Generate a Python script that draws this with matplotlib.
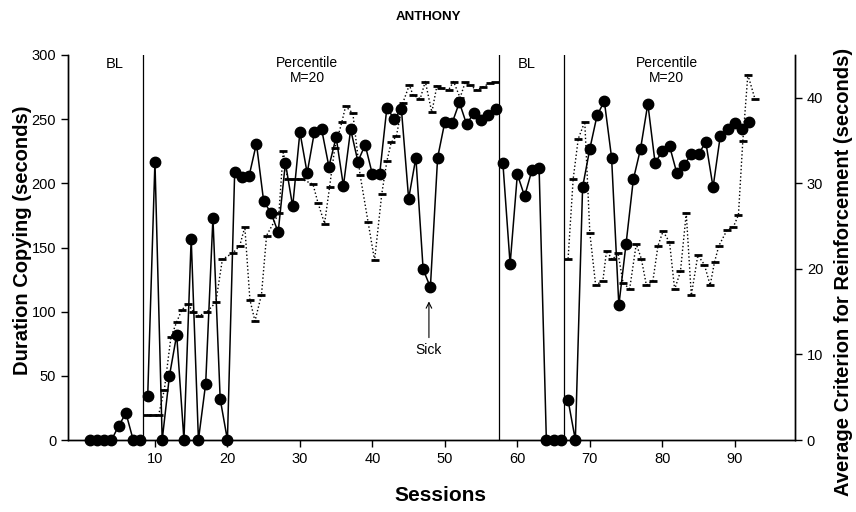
import numpy as np
import matplotlib
matplotlib.use("Agg")
import matplotlib.pyplot as plt

plt.rcParams['font.family'] = ['Liberation Sans', 'DejaVu Sans']

# duration copying (seconds), one value per session, split by phase
bl1_sessions = np.arange(1, 9)
bl1_duration = [0, 0, 0, 0, 11, 21, 0, 0]

p1_sessions = np.arange(9, 58)
p1_duration = [34, 217, 0, 50, 82, 0, 157, 0, 44, 173,
               32, 0, 209, 205, 206, 231, 186, 177, 162, 216,
               182, 240, 208, 240, 242, 213, 236, 198, 242, 217,
               230, 207, 207, 259, 250, 258, 188, 220, 133, 119,
               220, 248, 247, 263, 246, 255, 249, 253, 258]

bl2_sessions = np.arange(58, 67)
bl2_duration = [216, 137, 207, 190, 210, 212, 0, 0, 0]

p2_sessions = np.arange(67, 93)
p2_duration = [31, 0, 197, 227, 253, 264, 220, 105, 153, 203,
               227, 262, 216, 225, 229, 208, 214, 223, 223, 232,
               197, 237, 242, 247, 242, 248]

# average criterion for reinforcement (seconds), right axis
crit1_x = [8.9, 9.7, 10.5, 11.3, 12.2, 13.0, 13.7, 14.5, 15.3, 16.1,
           17.2, 18.4, 19.3, 20.8, 21.7, 22.4, 23.1, 23.8, 24.7, 25.4,
           27.1, 27.7, 28.3, 29.3, 30.2, 31.8, 32.5, 33.4, 34.1, 34.8,
           35.8, 36.3, 37.3, 38.3, 39.4, 40.3, 41.3, 42.0, 42.6, 43.3,
           44.2, 45.1, 45.6, 46.6, 47.3, 48.2, 48.9, 49.5, 50.5, 51.2,
           52.1, 52.8, 53.4, 54.4, 55.3, 56.2, 56.9]
crit1_y = [2.9, 2.9, 2.9, 5.9, 12, 13.8, 15.2, 15.9, 15, 14.5,
           15, 16.1, 21.1, 21.9, 22.7, 24.9, 16.4, 13.9, 17, 23.9,
           26.5, 33.8, 30.5, 30.5, 30.5, 29.9, 27.7, 25.3, 29.6, 34.1,
           37.2, 39, 38.2, 31, 25.5, 21, 28.8, 32.6, 34.8, 35.5,
           39.4, 41.5, 40.3, 39.9, 41.9, 38.3, 41.4, 41.1, 40.9, 41.9,
           40, 41.8, 41.5, 40.9, 41.3, 41.7, 41.8]

crit2_x = [67.0, 67.7, 68.4, 69.3, 70.0, 70.8, 71.8, 72.3, 73.1, 73.9,
           74.6, 75.5, 76.4, 77.1, 77.8, 78.7, 79.4, 80.1, 81.0, 81.7,
           82.5, 83.3, 84.0, 84.9, 85.8, 86.6, 87.2, 87.8, 88.9, 89.8,
           90.5, 91.1, 91.8, 92.8]
crit2_y = [21.2, 30.5, 35.2, 37.2, 24.2, 18.1, 18.6, 22.1, 21.1, 21.8,
           18.3, 17.7, 22.9, 21.2, 18.1, 18.6, 22.7, 24.4, 23.1, 17.6,
           19.7, 26.5, 16.9, 21.6, 20.5, 18.1, 20.8, 22.7, 24.5, 24.9,
           26.3, 34.9, 42.7, 39.8]

phase_lines = [8.4, 57.5, 66.5]

fig = plt.figure(figsize=(8.56, 5.12), dpi=100)
ax = fig.add_axes([0.0794, 0.1406, 0.8493, 0.752])
ax2 = ax.twinx()

# criterion: dashes joined by a dotted line
for cx, cy in [(crit1_x, crit1_y), (crit2_x, crit2_y)]:
    ax2.plot(cx, cy, color='k', ls=':', lw=1.0, marker='_',
             markersize=6, markeredgewidth=2)

# duration: filled circles joined by solid lines
for sx, sy in [(bl1_sessions, bl1_duration), (p1_sessions, p1_duration),
               (bl2_sessions, bl2_duration), (p2_sessions, p2_duration)]:
    ax.plot(sx, sy, color='k', lw=1.1, marker='o', markersize=7.5,
            clip_on=False, zorder=3)

for x in phase_lines:
    ax.axvline(x, color='k', lw=0.9)

ax.set_xlim(-2, 98.3)
ax.set_ylim(0, 300)
ax2.set_ylim(0, 45)
ax.set_xticks(np.arange(10, 100, 10))
ax.set_yticks(np.arange(0, 301, 50))
ax2.set_yticks(np.arange(0, 41, 10))

for a in (ax, ax2):
    a.spines['top'].set_visible(False)
    a.tick_params(direction='out', length=5, width=1, labelsize=10.5)
    for s in a.spines.values():
        s.set_linewidth(1.0)

ax.text(4.5, 293, 'BL', ha='center', va='center', fontsize=10.5)
ax.text(31, 288, 'Percentile\nM=20', ha='center', va='center', fontsize=10,
        linespacing=1.1)
ax.text(61.3, 293, 'BL', ha='center', va='center', fontsize=10.5)
ax.text(80.6, 288, 'Percentile\nM=20', ha='center', va='center', fontsize=10,
        linespacing=1.1)

ax.annotate('Sick', xy=(47.8, 108), xytext=(47.8, 70), ha='center',
            va='center', fontsize=10,
            arrowprops=dict(arrowstyle='->', lw=0.8, color='k',
                            shrinkA=2, shrinkB=0))

fig.text(0.5, 0.966, 'ANTHONY', ha='center', va='center', fontsize=9.5,
         fontweight='bold')
fig.text(0.514, 0.033, 'Sessions', ha='center', va='center', fontsize=15,
         fontweight='bold')
fig.text(0.026, 0.531, 'Duration Copying (seconds)', rotation=90,
         ha='center', va='center', fontsize=14.5, fontweight='bold')
fig.text(0.985, 0.469, 'Average Criterion for Reinforcement (seconds)',
         rotation=90, ha='center', va='center', fontsize=14.5,
         fontweight='bold')

fig.savefig('out.png', dpi=100)
